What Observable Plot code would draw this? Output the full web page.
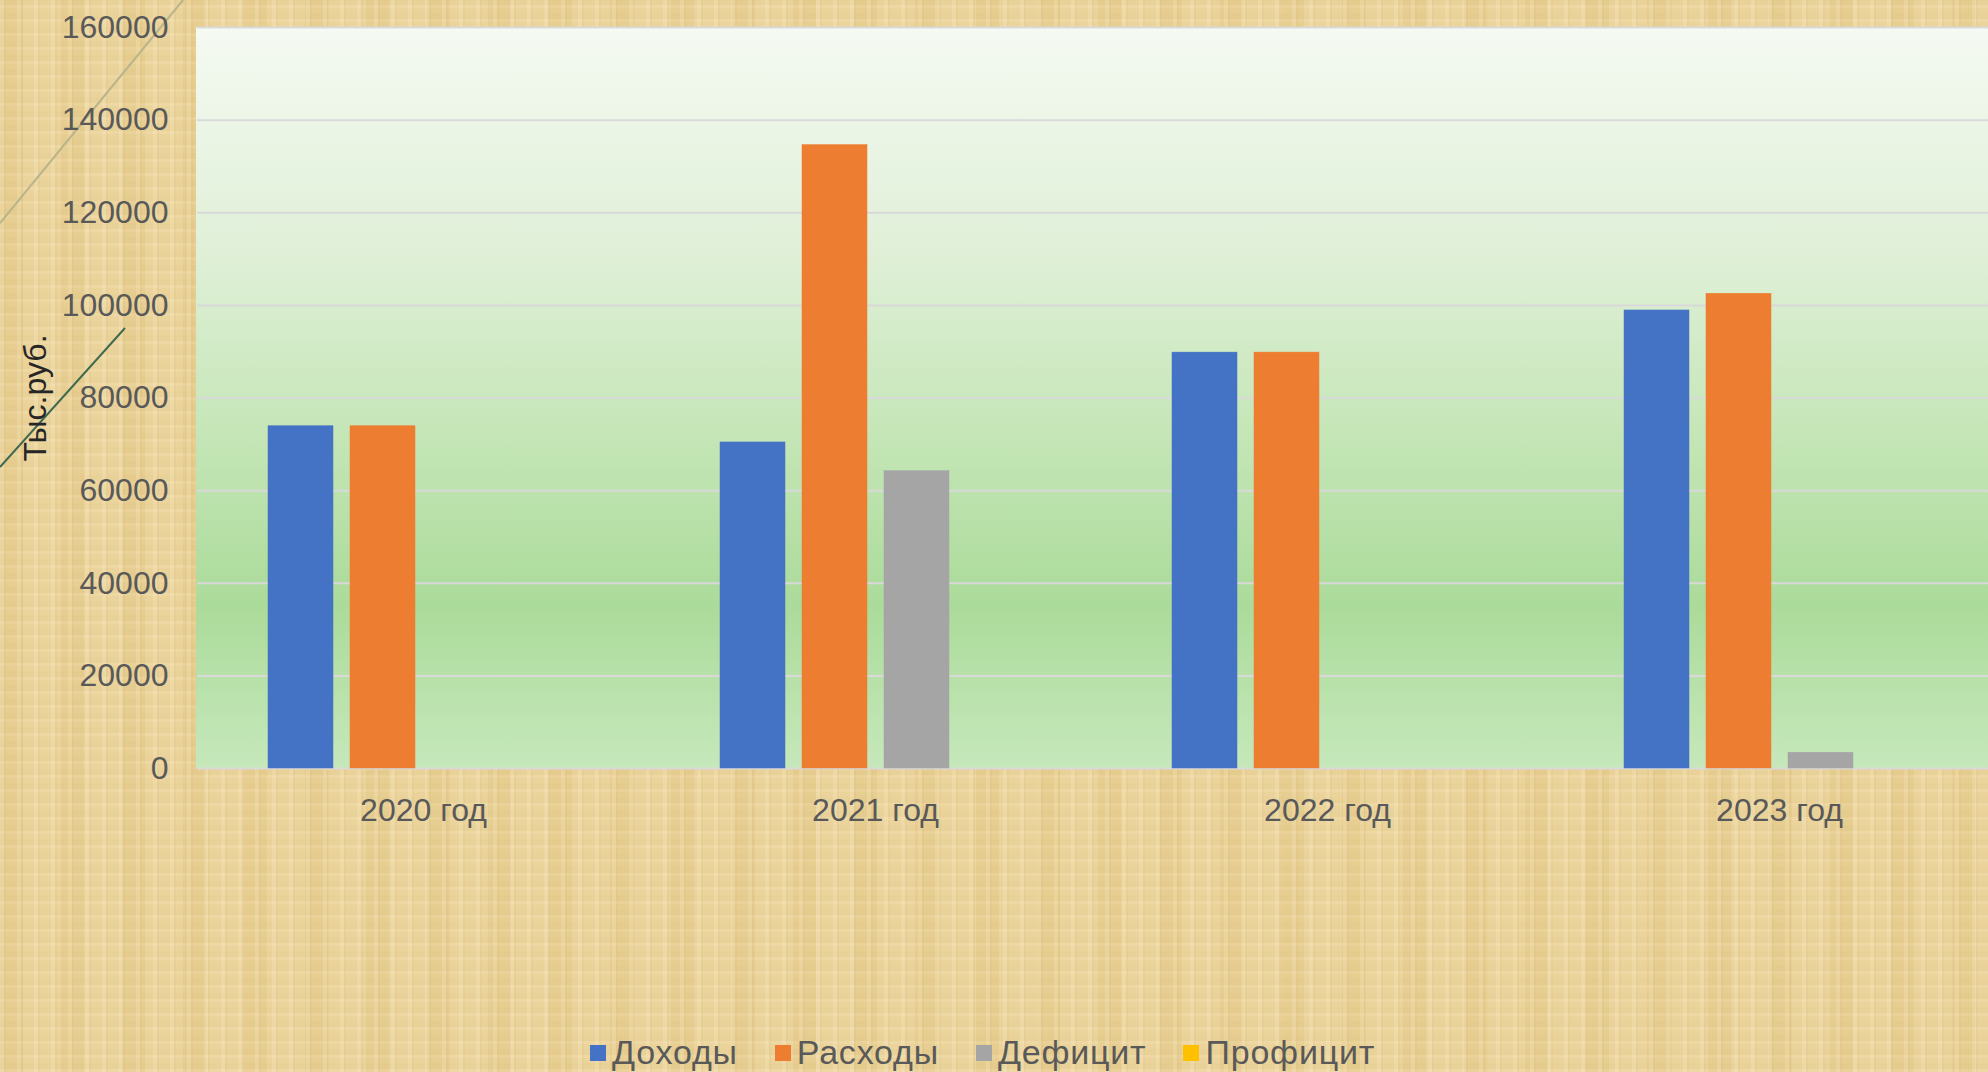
<!DOCTYPE html>
<html lang="ru">
<head>
<meta charset="utf-8">
<script src="https://cdn.jsdelivr.net/npm/d3@7"></script>
<script src="https://cdn.jsdelivr.net/npm/@observablehq/plot@0.6"></script>
<style>
  html, body { margin: 0; padding: 0; width: 1988px; height: 1072px; overflow: hidden; }
  body {
    position: relative;
    font-family: "Liberation Sans", "DejaVu Sans", sans-serif;
    background-color: #e9d095;
    background-image:
      repeating-linear-gradient(90deg, rgba(255,246,220,0.18) 0px, rgba(255,246,220,0.18) 4px, rgba(185,150,70,0.07) 4px, rgba(185,150,70,0.07) 6px, rgba(255,240,200,0.0) 6px, rgba(255,240,200,0.0) 17px),
      repeating-linear-gradient(90deg, rgba(200,170,90,0.07) 0px, rgba(200,170,90,0.07) 23px, rgba(255,245,215,0.10) 23px, rgba(255,245,215,0.10) 61px),
      repeating-linear-gradient(0deg, rgba(255,245,215,0.12) 0px, rgba(255,245,215,0.12) 3px, rgba(190,160,80,0.05) 3px, rgba(190,160,80,0.05) 9px, rgba(255,240,200,0.0) 9px, rgba(255,240,200,0.0) 14px);
  }
  #deco { position: absolute; left: 0; top: 0; }
  #chart { position: absolute; left: 0; top: 0; width: 2010px; }
  #chart svg { max-width: none !important; }
  #legend {
    position: absolute; left: 590px; top: 1033px;
    display: flex; align-items: center; gap: 37px;
    font-size: 34px; letter-spacing: 0.8px; color: #595959; white-space: nowrap;
  }
  #legend .item { display: flex; align-items: center; gap: 6px; }
  #legend .sw { width: 16px; height: 16px; display: inline-block; }
</style>
</head>
<body>
<svg id="deco" width="400" height="600">
  <line x1="0" y1="223" x2="183" y2="0" stroke="#b9b48a" stroke-width="2"/>
  <line x1="0" y1="467" x2="125" y2="328" stroke="#3f6a50" stroke-width="2"/>
</svg>
<div id="chart"></div>
<div id="legend"></div>
<script>
const years = ["2020 год", "2021 год", "2022 год", "2023 год"];
const series = ["Доходы", "Расходы", "Дефицит", "Профицит"];
const income = [73900, 70400, 89800, 98900];
const expenses = [73900, 134600, 89800, 102500];
const deficit = [null, 64200, null, 3400];
const surplus = [null, null, null, null];
const seriesColors = ["#4472c4", "#ed7d31", "#a5a5a5", "#ffc000"];
const yTicks = [0, 20000, 40000, 60000, 80000, 100000, 120000, 140000, 160000];
const yLabel = "Тыс.руб.";

const valuesBySeries = [income, expenses, deficit, surplus];
const rows = [];
years.forEach((year, i) => {
  series.forEach((s, j) => {
    const v = valuesBySeries[j][i];
    if (v != null) rows.push({year, series: s, value: v});
  });
});

const FONT = "'Liberation Sans', 'DejaVu Sans', sans-serif";
const W = 2010, H = 830, ML = 196, MR = 5, MT = 27, MB = 62;

const chart = Plot.plot({
  width: W,
  height: H,
  marginLeft: ML,
  marginRight: MR,
  marginTop: MT,
  marginBottom: MB,
  style: {fontFamily: FONT, fontSize: "32px", color: "#595959", background: "transparent", overflow: "visible", maxWidth: "none"},
  fx: {domain: years, padding: 0, axis: "bottom", tickSize: 0, tickPadding: 30, label: null},
  x: {domain: series, paddingInner: 0.211, paddingOuter: 0.85, axis: null},
  y: {
    domain: [0, 160000], ticks: yTicks, axis: "left", tickSize: 0, tickPadding: 29,
    tickFormat: d => String(d), label: yLabel, labelAnchor: "center", labelArrow: "none", labelOffset: 174
  },
  color: {domain: series, range: seriesColors},
  marks: [
    Plot.gridY(yTicks, {stroke: "#d9d9d9", strokeOpacity: 1, strokeWidth: 2}),
    Plot.barY(rows, {fx: "year", x: "series", y: "value", fill: "series", stroke: "series", strokeWidth: 0.5})
  ]
});
chart.style.maxWidth = "none";

// gradient background of the plot area (drawn behind all marks)
const svg = d3.select(chart);
const defs = svg.insert("defs", ":first-child");
const grad = defs.append("linearGradient").attr("id", "plotbg").attr("x1", 0).attr("y1", 0).attr("x2", 0).attr("y2", 1);
[[0, "#f5faf2"], [0.3, "#e0f0d8"], [0.55, "#c5e6b7"], [0.78, "#abdb9a"], [1, "#c6e8bb"]].forEach(([o, c]) =>
  grad.append("stop").attr("offset", o).attr("stop-color", c));
svg.insert("rect", "defs + *")
  .attr("x", ML).attr("y", MT).attr("width", W - ML - MR).attr("height", H - MT - MB)
  .attr("fill", "url(#plotbg)");

svg.selectAll('g[aria-label="y-axis label"] text').attr("fill", "#262626");

document.getElementById("chart").appendChild(chart);

// legend
const legend = d3.select("#legend");
series.forEach((s, j) => {
  const it = legend.append("div").attr("class", "item");
  it.append("span").attr("class", "sw").style("background", seriesColors[j]);
  it.append("span").text(s);
});
</script>
</body>
</html>
